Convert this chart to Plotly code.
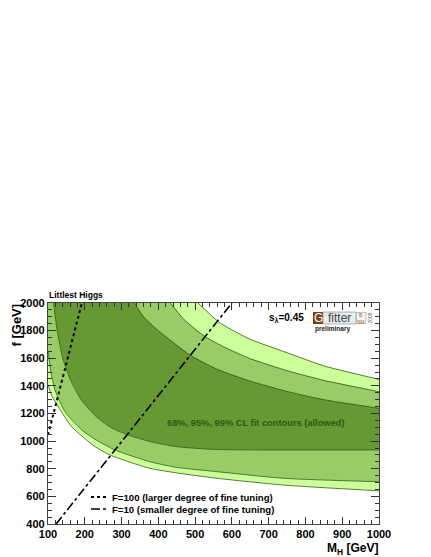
import plotly.graph_objects as go

# ---------------- data ----------------
# 99% CL contour (light)
c99_lower_mh = [100, 110, 128, 164, 228, 268, 320, 377, 450, 559, 740, 1000]
c99_lower_f = [1410, 1330, 1249, 1105, 960, 900, 850, 803, 770, 731, 682, 640]
c99_upper_mh = [508, 563, 600, 649, 750, 850, 1000]
c99_upper_f = [2000, 1865, 1805, 1738, 1640, 1545, 1447]

# 95% CL contour (medium)
c95_lower_mh = [100, 108, 119, 146, 192, 230, 282, 377, 450, 559, 740, 1000]
c95_lower_f = [1650, 1500, 1370, 1213, 1080, 1010, 936, 851, 810, 779, 731, 706]
c95_upper_mh = [433, 470, 527, 580, 649, 750, 850, 1000]
c95_upper_f = [2000, 1880, 1756, 1680, 1598, 1510, 1440, 1358]

# 68% CL contour (dark)
c68_lower_mh = [115, 125, 140, 160, 190, 230, 270, 318, 380, 450, 550, 700, 1000]
c68_lower_f = [2000, 1800, 1600, 1450, 1300, 1180, 1100, 1044, 995, 960, 940, 936, 936]
c68_upper_mh = [335, 360, 400, 486, 560, 649, 750, 850, 1000]
c68_upper_f = [2000, 1900, 1800, 1623, 1520, 1435, 1360, 1300, 1238]

# fine-tuning lines
ft100_mh = [100, 192]
ft100_f = [1044, 2000]
ft10_mh = [122, 600]
ft10_f = [400, 2000]

x_tickvals = [100, 200, 300, 400, 500, 600, 700, 800, 900, 1000]
y_tickvals = [400, 600, 800, 1000, 1200, 1400, 1600, 1800, 2000]

legend_labels = ["F=100 (larger degree of fine tuning)",
                 "F=10 (smaller degree of fine tuning)"]

# ---------------- styles ----------------
C_LIGHT = "#ccff99"
C_MID = "#99cc66"
C_DARK = "#669933"
C_EDGE = "#2f5a14"
FONT = "Liberation Sans"

OFF = 8                      # page body margin of the html page
W, H = 431 - OFF, 557 - OFF
L, R, T, B = 48, 379, 303, 524  # plot area in page pixels


def xp(px):
    return (px - L) / (R - L)


def yp(py):
    return (B - py) / (B - T)


fig = go.Figure()


def add_band(lo_x, lo_f, up_x, up_f, color, left_top=True):
    xs, ys = [], []
    if left_top:
        xs.append(100)
        ys.append(2000)
    xs += lo_x
    ys += lo_f
    xs += up_x[::-1]
    ys += up_f[::-1]
    fig.add_trace(go.Scatter(x=xs, y=ys, fill="toself", fillcolor=color,
                             mode="lines", line=dict(width=0, color=color),
                             showlegend=False, hoverinfo="skip"))


add_band(c99_lower_mh, c99_lower_f, c99_upper_mh, c99_upper_f, C_LIGHT)
add_band(c95_lower_mh, c95_lower_f, c95_upper_mh, c95_upper_f, C_MID)
add_band(c68_lower_mh, c68_lower_f, c68_upper_mh, c68_upper_f, C_DARK, left_top=False)

for cx, cy in [(c99_lower_mh, c99_lower_f), (c99_upper_mh, c99_upper_f),
               (c95_lower_mh, c95_lower_f), (c95_upper_mh, c95_upper_f),
               (c68_lower_mh, c68_lower_f), (c68_upper_mh, c68_upper_f)]:
    fig.add_trace(go.Scatter(x=cx, y=cy, mode="lines",
                             line=dict(color=C_EDGE, width=0.8, shape="spline", smoothing=0.6),
                             showlegend=False, hoverinfo="skip"))

fig.add_trace(go.Scatter(x=ft100_mh, y=ft100_f, mode="lines",
                         line=dict(color="black", width=2, dash="dot"),
                         name=legend_labels[0], showlegend=False))
fig.add_trace(go.Scatter(x=ft10_mh, y=ft10_f, mode="lines",
                         line=dict(color="black", width=1.6, dash="dashdot"),
                         name=legend_labels[1], showlegend=False))

axis_common = dict(
    showgrid=False, zeroline=False, showline=True, linecolor="#444", linewidth=1.2,
    ticks="inside", mirror="ticks", tickcolor="#333", tickwidth=1,
    tickfont=dict(family=FONT, size=11, color="black", weight="bold"),
)
fig.update_xaxes(range=[100, 1000], tickvals=x_tickvals, ticklen=7,
                 minor=dict(ticks="inside", dtick=20, ticklen=4, tickcolor="#333"),
                 **axis_common)
fig.update_yaxes(range=[400, 2000], tickvals=y_tickvals, ticklen=8,
                 minor=dict(ticks="inside", dtick=50, ticklen=4, tickcolor="#333"),
                 **axis_common)


def bold(s, c="black"):
    return dict(family=FONT, size=s, color=c, weight="bold")


ann = []
ann.append(dict(text="f [GeV]", x=xp(16), y=yp(302), xref="paper", yref="paper",
                textangle=-90, xanchor="center", yanchor="top", showarrow=False, font=bold(13)))
ann.append(dict(text="M<sub>H</sub> [GeV]", x=xp(380), y=yp(539), xref="paper", yref="paper",
                xanchor="right", yanchor="top", showarrow=False, font=bold(12)))
ann.append(dict(text="Littlest Higgs", x=xp(47), y=yp(302), xref="paper", yref="paper",
                xanchor="left", yanchor="bottom", showarrow=False, font=bold(8.5)))
ann.append(dict(text="s<sub>λ</sub>=0.45", x=xp(267), y=yp(318), xref="paper", yref="paper",
                xanchor="left", yanchor="middle", showarrow=False, font=bold(10)))
ann.append(dict(text="68%, 95%, 99% CL fit contours (allowed)", x=xp(256), y=yp(423),
                xref="paper", yref="paper", xanchor="center", yanchor="middle",
                showarrow=False, font=bold(9.3, "#2d5a10")))
# Gfitter logo
ann.append(dict(text="G", x=xp(318), y=yp(318), xref="paper", yref="paper",
                xanchor="center", yanchor="middle", showarrow=False,
                font=dict(family=FONT, size=12, color="white")))
ann.append(dict(text="fitter", x=xp(339.5), y=yp(318), xref="paper", yref="paper",
                xanchor="center", yanchor="middle", showarrow=False,
                font=dict(family=FONT, size=12, color="#444")))
ann.append(dict(text="B<br>SM", x=xp(361), y=yp(318), xref="paper", yref="paper",
                xanchor="center", yanchor="middle", showarrow=False,
                font=dict(family=FONT, size=5, color="#a06030")))
ann.append(dict(text="2008", x=xp(369.5), y=yp(318), xref="paper", yref="paper",
                xanchor="center", yanchor="middle", showarrow=False, textangle=-90,
                font=dict(family=FONT, size=5, color="#666")))
ann.append(dict(text="preliminary", x=xp(313), y=yp(328.5), xref="paper", yref="paper",
                xanchor="left", yanchor="middle", showarrow=False, font=bold(6.5, "#222")))

# hand-made legend (ROOT-like, compact rows)
leg_rows = [497, 509]
leg_dash = ["dot", "dashdot"]
leg_width = [2, 1.6]
shapes = [
    dict(type="rect", xref="paper", yref="paper", x0=xp(313), x1=xp(323), y0=yp(324), y1=yp(312),
         fillcolor="#7a3f14", line=dict(width=0)),
    dict(type="rect", xref="paper", yref="paper", x0=xp(323), x1=xp(356), y0=yp(324), y1=yp(312),
         fillcolor="#e4eef0", line=dict(width=0.6, color="#888")),
    dict(type="rect", xref="paper", yref="paper", x0=xp(356.5), x1=xp(366), y0=yp(323.5), y1=yp(312.5),
         fillcolor="#f4f4f0", line=dict(width=0.6, color="#999")),
]
for row, dsh, lw, lab in zip(leg_rows, leg_dash, leg_width, legend_labels):
    shapes.append(dict(type="line", xref="paper", yref="paper", x0=xp(91), x1=xp(108),
                       y0=yp(row), y1=yp(row), line=dict(color="black", width=lw, dash=dsh)))
    ann.append(dict(text=lab, x=xp(110), y=yp(row), xref="paper", yref="paper",
                    xanchor="left", yanchor="middle", showarrow=False, font=bold(9.6)))

fig.update_layout(
    width=W, height=H,
    margin=dict(l=L - OFF, r=431 - R, t=T - OFF, b=557 - B),
    paper_bgcolor="white", plot_bgcolor="white",
    annotations=ann, shapes=shapes,
    showlegend=False,
)

fig.write_html("out.html")
